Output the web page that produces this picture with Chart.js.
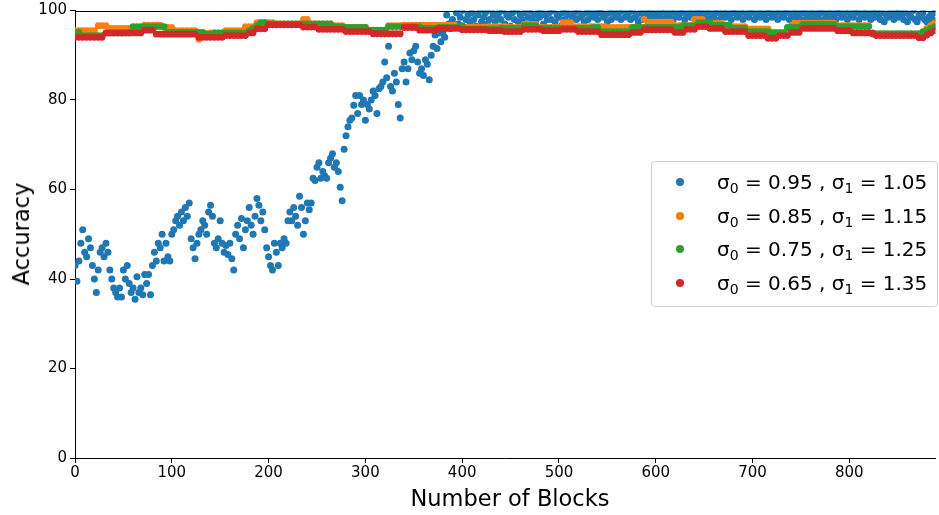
<!DOCTYPE html>
<html>
<head>
<meta charset="utf-8">
<script src="https://cdn.jsdelivr.net/npm/chart.js@4.4.1/dist/chart.umd.min.js"></script>
<style>
  body { margin: 0; background: #fff; }
  #wrap { position: relative; width: 939px; height: 515px; font-family: "DejaVu Sans", sans-serif; color: #000; }
  #chart { position: absolute; left: 0; top: 0; }
  #ytitle { position: absolute; left: 21px; top: 234px; transform: translate(-50%, -50%) rotate(-90deg); font-size: 22.5px; white-space: nowrap; }
  #xtitle { position: absolute; left: 510px; top: 498px; transform: translate(-50%, -50%); font-size: 22.5px; white-space: nowrap; }
  #legend { position: absolute; left: 651px; top: 161px; width: 285px; height: 141px; border: 1px solid #d0d0d0; border-radius: 4px; background: rgba(255,255,255,0.85); padding-top: 3px; box-sizing: content-box; }
  .row { position: relative; height: 33.7px; display: flex; align-items: center; font-size: 20px; white-space: nowrap; }
  .dot { position: absolute; left: 24px; width: 8px; height: 8px; border-radius: 50%; }
  .txt { position: absolute; left: 65px; }
  .txt sub { font-size: 70%; vertical-align: -0.3em; line-height: 0; }
</style>
</head>
<body>
<div id="wrap">
  <canvas id="chart" width="939" height="515"></canvas>
  <div id="ytitle">Accuracy</div>
  <div id="xtitle">Number of Blocks</div>
  <div id="legend"></div>
</div>
<script>
const colors = ["#1f77b4", "#ff7f0e", "#2ca02c", "#d62728"];
const sigma0 = ["0.95", "0.85", "0.75", "0.65"];
const sigma1 = ["1.05", "1.15", "1.25", "1.35"];
const xTicks = [0, 100, 200, 300, 400, 500, 600, 700, 800];
const yTicks = [0, 20, 40, 60, 80, 100];

// blue: one value every 2 blocks, starting at block 0
const blueStep = 2;
const blueY = [
  43, 39.5, 44, 48, 51, 46, 45, 49, 47, 43,
  40, 37, 42, 46, 47, 45, 48, 46, 42, 40,
  38, 37, 36, 38, 36, 42, 40, 43, 39, 37,
  38, 35.5, 40.5, 37, 38, 36.5, 41, 39, 41, 36.5,
  43, 46, 44, 48, 47, 50, 44, 48, 45, 44,
  50,
  51, 53, 54, 52, 55, 53, 56, 54, 57, 49,
  47, 44.5, 48, 50, 51, 53, 52, 50, 55, 56.5,
  54, 48, 47, 49, 53, 48, 46, 47.5, 45.5, 48,
  44.5, 42, 50, 52, 49, 53.5, 47, 51, 53, 56,
  52, 50, 54, 58, 56.5, 53, 55, 51, 47, 45,
  43, 42, 48, 46, 43, 48, 47, 49, 48, 53,
  55, 53, 56, 54, 52, 58.5, 56, 50, 53, 57,
  55.5, 57, 62.5, 62, 65, 66, 62.5, 64, 63, 62.5,
  66, 67, 68, 65, 66, 64, 60.5, 57.5, 69, 72,
  74, 75.5, 76, 78.8, 81, 77, 81, 79, 80, 75.5,
  79, 78, 80, 82, 81, 77, 82.5, 83, 84, 88.5,
  85, 92, 83, 82, 86, 84, 79, 76, 87, 88.5,
  84, 87, 90.5, 89, 91, 92, 88.5, 86, 87, 85.5,
  89, 88, 84.5, 90, 92, 94.5, 91.5, 95, 93, 95,
  94, 99, 97, 96,
  98, 96.5, 99.5, 97, 98.5, 100, 96, 98, 99, 97.5, 99.5, 98, 96.5, 99, 100, 97.5, 98.5, 99.5, 97, 98, 100, 99, 97.5, 98.5, 99.5,
  98, 100, 97, 99, 98.5, 96.5, 99.5, 98, 100, 97.5, 99, 98, 99.5, 97, 98.5, 100, 98, 99, 97.5, 99.5, 98.5, 100, 97, 99, 98,
  99.5, 98, 100, 97.5, 99, 98.5, 96.5, 99.5, 98, 100, 99, 97.5, 98.5, 99.5, 98, 100, 98.5, 99, 97.5, 99.5, 98, 100, 99, 98.5, 99.5,
  98, 99.5, 100, 98.5, 99, 97.5, 99.5, 98, 100, 99, 98.5, 99.5, 98, 100, 98.5, 99, 99.5, 98, 100, 98.5, 99, 97.5, 99.5, 98, 99,
  100, 98.5, 99.5, 98, 99, 100, 98.5, 99, 99.5, 98, 100, 99, 98.5, 99.5, 98, 100, 99, 98.5, 99.5, 100, 98, 99, 99.5, 98.5, 100,
  99, 98, 99.5, 100, 98.5, 99, 99.5, 98, 100, 99, 98.5, 99.5, 100, 98, 99, 99.5, 98.5, 100, 99, 98, 99.5, 100, 98.5, 99, 99.5,
  98, 100, 99, 98.5, 99.5, 100, 98, 99, 99.5, 98.5, 100, 99, 98, 99.5, 100, 98.5, 99, 99.5, 98, 100, 99, 98.5, 99.5, 100, 98,
  99, 99.5, 98.5, 100, 99, 98, 99.5, 100, 98.5, 99, 99.5, 98, 100, 99, 98.5, 99.5, 100, 98, 99, 99.5, 98.5, 100, 99, 98, 99.5,
  100, 98.5, 99, 99.5, 98, 100, 99, 98.5, 99.5, 100, 98, 99, 99.5, 98.5, 100, 99, 98, 99.5, 98.5, 100, 99, 98, 99.5, 97.5, 99,
  98.5, 100, 99, 98, 99.5, 98.5, 100, 99, 98, 99.5, 97.5, 99, 98.5, 100, 98, 97.5, 99, 98.5, 99.5, 98, 97.5, 98.5, 99, 98, 99.5
];

// the other three: one value every 4 blocks, 10 per row (40 blocks)
const flatStep = 4;
const orangeY = [
  95.5, 95.5, 95.5, 95.5, 95.5, 95.5, 96.6, 96.6, 96.6, 96,
  96, 96, 96, 96, 96, 96.2, 96.2, 96.2, 96.7, 96.7,
  96.7, 96.7, 96.7, 96.2, 96.2, 96.2, 95.5, 95.5, 95.5, 95.5,
  95.5, 95.5, 93.6, 94.8, 94.8, 95, 95, 95, 95, 95.5,
  95.5, 95.5, 95.5, 95.5, 96.4, 96.4, 96.4, 97.3, 97.3, 97.3,
  97.3, 97.3, 97, 97, 97, 97, 97, 97, 97, 98,
  98, 97, 97, 97, 97, 97, 97, 96.6, 96.6, 96.6,
  96.2, 96.2, 96.2, 96.2, 96.2, 96.2, 95.3, 95.3, 95.3, 95.3,
  95.3, 96.6, 96.6, 96.6, 96.6, 96.7, 96.7, 96.7, 96.7, 96.7,
  96.7, 96.7, 96.7, 96.7, 96.7, 96.7, 96.7, 96.7, 96.7, 96.3,
  96.3, 96.3, 96.3, 96.3, 96.3, 96.3, 96.3, 96.4, 96.4, 96.4,
  96.4, 96.4, 96.2, 96.2, 96.2, 96.2, 96.9, 96.9, 96.9, 96.9,
  96.2, 96.2, 96.2, 96.2, 96.2, 96.2, 97.3, 97.3, 97.3, 96.4,
  96.4, 96.4, 96.4, 96.4, 96.4, 96.4, 96.4, 96.4, 96.2, 96.2,
  96.2, 96.2, 96.2, 96.2, 96.2, 96.2, 96.2, 98, 97.4, 97.4,
  97.4, 97.4, 97.4, 97.4, 97.4, 96.6, 96.6, 96.6, 96.6, 96.6,
  98, 98, 98, 97.2, 97.2, 97.2, 97.2, 97.2, 96.4, 96.4,
  96.4, 96.4, 96.4, 96.4, 95.9, 95.9, 95.9, 95.9, 95.9, 95.9,
  95.1, 95.1, 95.1, 95.1, 95.8, 96.6, 97.2, 97.2, 97.2, 97.2,
  97.2, 97.2, 97.2, 97.2, 97.2, 97.2, 97.2, 96.6, 96.6, 96.6,
  96.6, 96.6, 96.6, 96.6, 96.6, 96.6, 94.7, 94.7, 94.7, 94.7,
  94.7, 94.7, 94.7, 94.7, 94.7, 94.7, 94.7, 94.7, 94.7, 95.3,
  96, 96.6, 97.2
];
const greenY = [
  95.1, 95.1, 94.4, 94.4, 94.4, 94.4, 94.4, 94.4, 95, 95,
  95, 95, 95, 95, 95, 96.4, 96.4, 96.4, 96.4, 96.4,
  96.4, 96.4, 96.4, 96.4, 95.1, 95.1, 95.1, 95.1, 95.1, 95.1,
  95.1, 95.1, 95.1, 95.1, 94.7, 94.7, 95, 95, 95, 95,
  95, 95, 95, 95, 95, 95.5, 96, 96.6, 97.3, 97.3,
  97, 97, 97, 97, 97, 97, 97, 97, 97, 97,
  97, 97, 97, 97, 97, 97, 97, 96.4, 96.4, 96.4,
  96.2, 96.2, 96.2, 96.2, 96.2, 96.2, 95.6, 95.6, 95.6, 95.6,
  95.6, 96.4, 96.4, 96.4, 96.4, 96.4, 96.4, 96.4, 96.4, 96.4,
  96, 96, 96, 96, 96.2, 96.2, 96.2, 96.2, 96.2, 96.2,
  96.6, 95.9, 95.9, 95.9, 95.9, 95.9, 95.9, 95.9, 95.9, 95.9,
  96, 96, 96, 96, 96, 96, 96.6, 96.6, 96.6, 96.6,
  96, 96, 96, 96, 96, 96, 96, 96, 96, 96,
  96, 96, 96, 96, 96.2, 96.2, 95.3, 95.3, 95.3, 95.3,
  95.3, 95.3, 95.3, 95.3, 96.2, 96.2, 96.2, 96.2, 96.2, 96.2,
  96.2, 96.2, 96.2, 96.2, 96.2, 96.2, 96.2, 96.6, 96.6, 96.6,
  96.6, 97.3, 97.3, 97.3, 97.3, 96.7, 96.7, 96.7, 96.7, 96.7,
  96, 96, 96, 96, 95.3, 95.3, 95.3, 95.3, 95.3, 95.3,
  95, 95, 95, 95, 96.2, 96.2, 96.2, 96.2, 96.9, 96.9,
  96.9, 96.9, 96.9, 96.9, 96.9, 96.9, 96.9, 96.4, 96.4, 96.4,
  96.4, 96.4, 96.4, 96.4, 96.4, 96.4, 94.8, 94.8, 94.8, 94.8,
  94.8, 94.8, 94.8, 94.8, 94.8, 94.8, 94.8, 94.8, 94.8, 95.2,
  95.6, 96, 96.4
];
const redY = [
  94, 94, 94, 94, 94, 94, 94, 94, 95, 95,
  95, 95, 95, 95, 95, 95, 95, 95, 95.6, 95.6,
  95.6, 94.7, 94.7, 94.7, 94.7, 94.7, 94.7, 94.7, 94.7, 94.7,
  94.7, 94.7, 94, 94, 94, 94, 94, 94, 94, 94.4,
  94.4, 94.4, 94.4, 94.4, 94.4, 95, 95, 95.9, 95.9, 95.9,
  96.8, 96.8, 96.8, 96.8, 96.8, 96.8, 96.8, 96.8, 96.8, 96.3,
  96.3, 96.3, 96.3, 95.8, 95.8, 95.8, 95.8, 95.8, 95.8, 95.8,
  95.3, 95.3, 95.3, 95.3, 95.3, 95.3, 95.3, 94.8, 94.8, 94.8,
  94.8, 94.8, 94.8, 94.8, 94.8, 96.2, 96.2, 96.2, 96.2, 95.6,
  95.6, 95.6, 95.6, 95.6, 96, 96, 96, 96, 96, 96,
  95.7, 95.7, 95.7, 95.7, 95.7, 95.7, 95.7, 95.5, 95.5, 95.5,
  95.5, 95.3, 95.3, 95.3, 95.3, 95.3, 95.8, 95.8, 95.8, 95.8,
  95.8, 95.5, 95.5, 95.5, 95.5, 95.5, 95.8, 95.8, 95.8, 95.8,
  95.3, 95.3, 95.3, 95.3, 95.3, 95.3, 94.6, 94.6, 94.6, 94.6,
  94.6, 94.6, 94.6, 94.6, 95.1, 95.1, 95.1, 95.7, 95.7, 95.7,
  95.7, 95.7, 95.7, 95.7, 95.7, 95.1, 95.1, 95.1, 95.8, 95.8,
  95.8, 96.4, 96.4, 96.4, 96, 96, 96, 96, 95.3, 95.3,
  95.3, 95.3, 95.3, 95.3, 94.4, 94.4, 94.4, 94.4, 94.4, 93.8,
  93.8, 93.8, 94.4, 94.4, 94.4, 95.1, 95.1, 95.1, 96, 96,
  96, 96, 96, 96, 96, 96, 96, 95.5, 95.5, 95.5,
  95.5, 95, 95, 95, 95, 95, 95, 94.4, 94.4, 94.4,
  94.4, 94.4, 94.4, 94.4, 94.4, 94.4, 94.4, 94.4, 93.9, 93.9,
  94.5, 95, 95.5
];

function toPoints(values, step) {
  return values.map((v, i) => ({ x: i * step, y: v }));
}

const series = [
  { values: blueY, step: blueStep, radius: 3.5 },
  { values: orangeY, step: flatStep, radius: 3.4 },
  { values: greenY, step: flatStep, radius: 3.4 },
  { values: redY, step: flatStep, radius: 3.4 }
];

// later series drawn on top, like matplotlib
const datasets = series.map((s, i) => ({
  label: `σ₀ = ${sigma0[i]} , σ₁ = ${sigma1[i]}`,
  data: toPoints(s.values, s.step),
  backgroundColor: colors[i],
  borderWidth: 0,
  pointRadius: s.radius,
  pointHoverRadius: s.radius,
  order: series.length - i,
  clip: { left: 0, top: 0, right: 0, bottom: 0 }
}));

const topSpine = {
  id: "topSpine",
  afterDatasetsDraw(chart) {
    const { ctx, chartArea } = chart;
    const y = Math.round(chartArea.top) + 0.5;
    ctx.save();
    ctx.strokeStyle = "#000";
    ctx.lineWidth = 1;
    ctx.beginPath();
    ctx.moveTo(chartArea.left, y);
    ctx.lineTo(chartArea.right, y);
    ctx.stroke();
    ctx.restore();
  }
};

const tickFont = { family: "DejaVu Sans", size: 15, lineHeight: 1 };

new Chart(document.getElementById("chart"), {
  type: "scatter",
  data: { datasets },
  options: {
    responsive: false,
    animation: false,
    devicePixelRatio: 1,
    layout: { padding: { top: 8, right: 1, left: 0, bottom: 0 } },
    plugins: { legend: { display: false }, tooltip: { enabled: false } },
    scales: {
      x: {
        type: "linear",
        min: 0,
        max: 889,
        z: 1,
        afterBuildTicks: s => { s.ticks = xTicks.map(v => ({ value: v })); },
        afterFit: s => { s.height = 57; },
        grid: { display: true, drawOnChartArea: false, drawTicks: true, tickLength: 5, color: "#000" },
        border: { display: true, color: "#000", width: 1 },
        ticks: { color: "#000", font: tickFont, padding: 3, maxRotation: 0 }
      },
      y: {
        type: "linear",
        min: 0,
        max: 100,
        z: 1,
        afterBuildTicks: s => { s.ticks = yTicks.map(v => ({ value: v })); },
        afterFit: s => { s.width = 75; },
        grid: { display: true, drawOnChartArea: false, drawTicks: true, tickLength: 5, color: "#000" },
        border: { display: true, color: "#000", width: 1 },
        ticks: { color: "#000", font: tickFont, padding: 3 }
      }
    }
  },
  plugins: [topSpine]
});

// legend in the chart area, matplotlib style
const legend = document.getElementById("legend");
colors.forEach((c, i) => {
  const row = document.createElement("div");
  row.className = "row";
  row.innerHTML = `<span class="dot" style="background:${c}"></span>` +
    `<span class="txt">σ<sub>0</sub> = ${sigma0[i]} , σ<sub>1</sub> = ${sigma1[i]}</span>`;
  legend.appendChild(row);
});
</script>
</body>
</html>
